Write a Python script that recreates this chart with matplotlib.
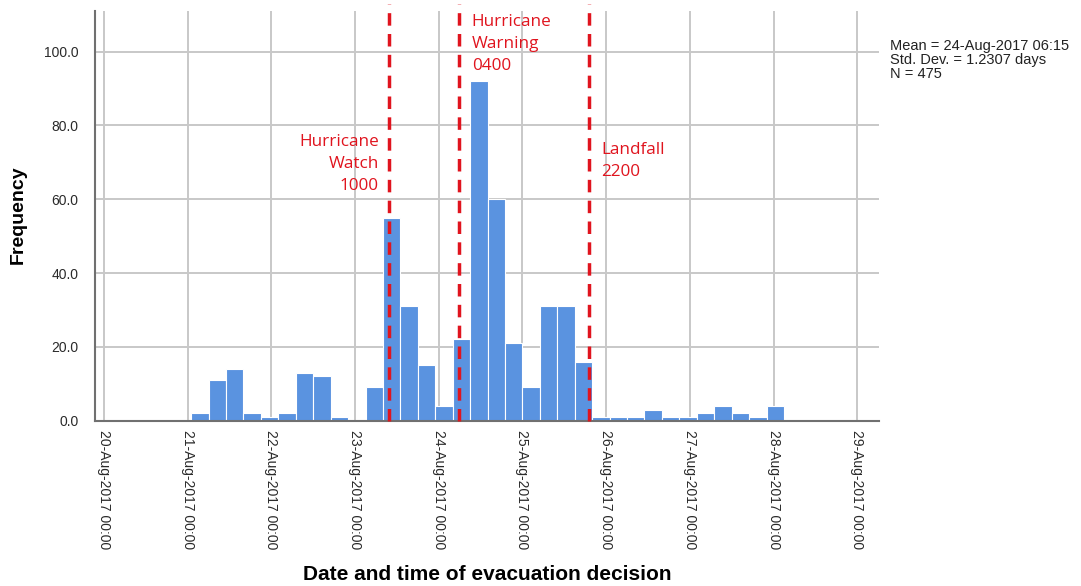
import pandas as pd
import matplotlib
matplotlib.use("Agg")
import matplotlib.pyplot as plt
import matplotlib.dates as mdates

# histogram counts, 5-hour bins starting 21-Aug-2017 01:00
bin_start = "2017-08-21 01:00"
bin_hours = 5
counts = [2, 11, 14, 2, 1,
          2, 13, 12, 1, 0,
          9, 55, 31, 15, 4,
          22, 92, 60, 21, 9,
          31, 31, 16,
          1, 1, 1, 3, 1, 1, 2, 4, 2, 1, 4]

# event markers (as drawn on the chart)
event_times  = ["2017-08-23 09:40", "2017-08-24 05:50", "2017-08-25 19:10"]
event_labels = ["Hurricane\nWatch\n1000", "Hurricane\nWarning\n0400", "Landfall\n2200"]

tick_days = pd.date_range("2017-08-20", "2017-08-29", freq="D")
y_ticks   = [0, 20, 40, 60, 80, 100]

stats_text = "Mean = 24-Aug-2017 06:15\nStd. Dev. = 1.2307 days\nN = 475"

BAR_COLOR = "#5A93E0"
RED       = "#E0141E"
GRID      = "#C8C8C8"
SPINE     = "#707070"

edges = pd.date_range(bin_start, periods=len(counts), freq=f"{bin_hours}h")
x_left = mdates.date2num(edges.to_pydatetime())

fig = plt.figure(figsize=(10.81, 5.86), dpi=100)
ax = fig.add_axes([0.0879, 0.2821, 0.7252, 0.6991])

ax.bar(
    x_left, counts,
    width=bin_hours / 24,
    align="edge",
    color=BAR_COLOR,
    edgecolor="white",
    linewidth=0.8,
    zorder=2
)

t0 = mdates.date2num(tick_days[0].to_pydatetime())
ax.set_xlim(t0 - 0.1075, t0 + 9.26)
ax.set_ylim(0, 111)

ax.set_xticks(mdates.date2num(tick_days.to_pydatetime()))
ax.xaxis.set_major_formatter(mdates.DateFormatter("%d-%b-%Y %H:%M"))
ax.set_yticks(y_ticks)
ax.set_yticklabels([f"{v:.1f}" for v in y_ticks])

for lbl in ax.get_xticklabels():
    lbl.set_rotation(270)
    lbl.set_ha("center")
    lbl.set_va("top")

ax.tick_params(axis="both", length=0, labelsize=10, labelcolor="#2a2a2a",
               labelfontfamily="Liberation Sans")
ax.tick_params(axis="x", pad=7)
ax.tick_params(axis="y", pad=12)

ax.grid(True, color=GRID, linewidth=1.4, zorder=0)
ax.set_axisbelow(True)

for side in ["top", "right"]:
    ax.spines[side].set_visible(False)
for side in ["left", "bottom"]:
    ax.spines[side].set_color(SPINE)
    ax.spines[side].set_linewidth(1.5)
    ax.spines[side].set_zorder(3)

ev = [mdates.date2num(pd.Timestamp(t).to_pydatetime()) for t in event_times]
for x in ev:
    ax.plot([x, x], [0, 113], color=RED, linewidth=2.5,
            dashes=(3.6, 2.4), zorder=4, clip_on=False)

text_kw = dict(color=RED, fontsize=12.3, family="Open Sans", linespacing=1.52,
               zorder=5, clip_on=False)
ax.text(ev[0] - 0.12, 69.6, event_labels[0], ha="right", va="center", **text_kw)
ax.text(ev[1] + 0.15, 102, event_labels[1], ha="left", va="center", **text_kw)
ax.text(ev[2] + 0.14, 70.3, event_labels[2], ha="left", va="center", **text_kw)

fig.text(18 / 1081, 1 - 215 / 586, "Frequency", rotation=90, ha="center",
         va="center", fontsize=14, fontweight="bold", family="Liberation Sans")
fig.text(487 / 1081, 1 - 575 / 586, "Date and time of evacuation decision",
         ha="center", va="center", fontsize=15, fontweight="bold",
         family="Liberation Sans")

fig.text(890 / 1081, 1 - 39 / 586, stats_text, ha="left", va="top",
         fontsize=10.5, family="Liberation Sans", linespacing=0.98, color="#222222")

fig.savefig("out.png", dpi=100)
